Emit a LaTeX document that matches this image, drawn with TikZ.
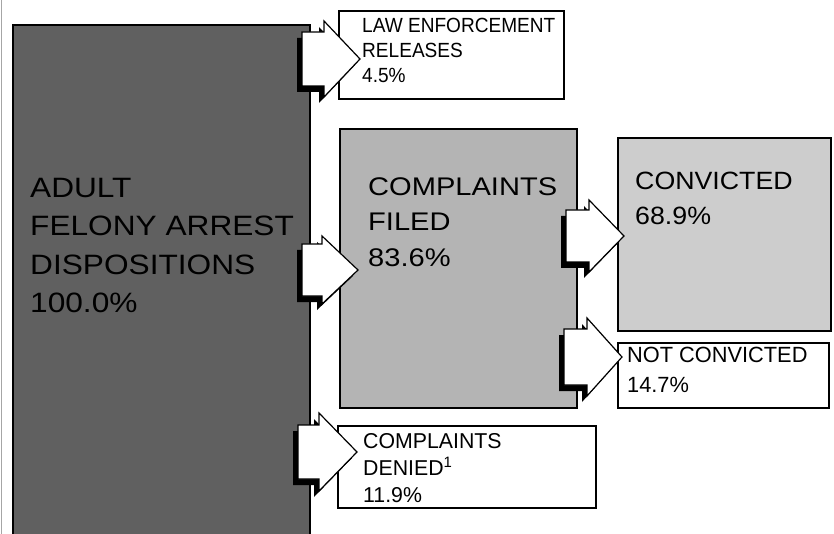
\documentclass[tikz,border=0pt]{standalone}
\usepackage{fontspec}
\setmainfont{Liberation Sans}
\newfontfamily\fmain[FakeStretch=1.13]{Liberation Sans}
\newfontfamily\ffiled[FakeStretch=1.14]{Liberation Sans}
\newfontfamily\fconv[FakeStretch=1.07]{Liberation Sans}
\newfontfamily\fnarrow[FakeStretch=0.93]{Liberation Sans}
\newfontfamily\fsmall[FakeStretch=0.99]{Liberation Sans}
\definecolor{darkfill}{HTML}{606060}
\definecolor{filedfill}{HTML}{B4B4B4}
\definecolor{convfill}{HTML}{CDCDCD}
% block arrow: left x, centre y, body half height, neck x, head half height, tip x
\newcommand{\blockarr}[6]{%
  \fill[black, shift={(-5,6)}] (#1,#2-#3) -- (#4,#2-#3) -- (#4,#2-#5) -- (#6,#2) -- (#4,#2+#5) -- (#4,#2+#3) -- (#1,#2+#3) -- cycle;
  \filldraw[fill=white, draw=black, line width=1.2pt, line join=miter] (#1,#2-#3) -- (#4,#2-#3) -- (#4,#2-#5) -- (#6,#2) -- (#4,#2+#5) -- (#4,#2+#3) -- (#1,#2+#3) -- cycle;
}
\begin{document}
\begin{tikzpicture}[x=1pt,y=-1pt,
  box/.style={draw=black, line width=1.8pt, rectangle, inner sep=0pt, anchor=north west},
  txt/.style={anchor=north west, inner sep=0pt, align=left, text=black}]
\useasboundingbox (0,0) rectangle (834,534);
\clip (0,0) rectangle (834,534);
\fill[white] (0,0) rectangle (834,534);
\draw[black!35, line width=0.8pt] (1.5,0) -- (1.5,534);

% boxes
\node (arrest) [box, fill=darkfill, minimum width=297pt, minimum height=540pt] at (12,24) {};
\node (law) [box, fill=white, minimum width=225pt, minimum height=88pt] at (338,10) {};
\node (filed) [box, fill=filedfill, minimum width=237pt, minimum height=279pt] at (339,128) {};
\node (conv) [box, fill=convfill, minimum width=213pt, minimum height=193pt] at (617,137) {};
\node (notconv) [box, fill=white, minimum width=211pt, minimum height=65pt] at (617,342) {};
\node (denied) [box, fill=white, minimum width=258pt, minimum height=82pt] at (337,425) {};

% texts
\node (arrestt) [txt, font={\fmain\fontsize{28}{38.5}\selectfont}] at (30,178) {ADULT\\FELONY ARREST\\DISPOSITIONS\\100.0\%};
\node (lawt) [txt, font={\fnarrow\fontsize{20.5}{25}\selectfont}] at (362,18) {LAW ENFORCEMENT\\RELEASES\\4.5\%};
\node (filedt) [txt, font={\ffiled\fontsize{25.5}{35.5}\selectfont}] at (368,177) {COMPLAINTS\\FILED\\83.6\%};
\node (convt) [txt, font={\fconv\fontsize{25}{35}\selectfont}] at (635,172) {CONVICTED\\68.9\%};
\node (notconvt) [txt, font={\fsmall\fontsize{22}{30}\selectfont}] at (627,347) {NOT CONVICTED\\14.7\%};
\node (deniedt) [txt, font={\fsmall\fontsize{21.5}{27}\selectfont}] at (363,433) {COMPLAINTS\\DENIED\textsuperscript{1}\\11.9\%};

% block arrows
\blockarr{302}{59}{27}{324}{38}{360}
\blockarr{302}{270}{26}{322}{34}{358}
\blockarr{566}{236}{26}{589}{36}{624}
\blockarr{564}{357}{28}{587}{39}{622}
\blockarr{298}{452}{27}{319}{39}{357}
\end{tikzpicture}
\end{document}
